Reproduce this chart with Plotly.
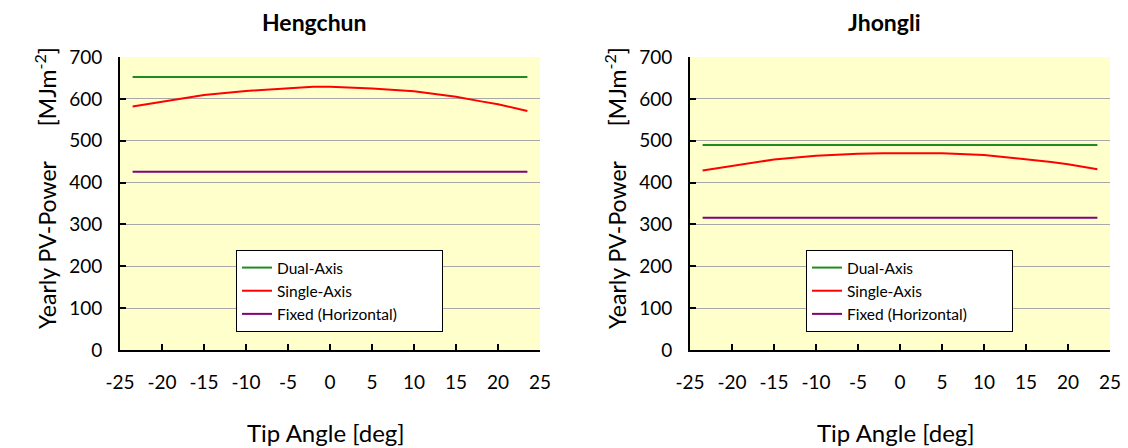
import plotly.graph_objects as go

# ---- data ----
tip_angle = [-23.5, -20, -17, -15, -10, -5, -2, 0, 2, 5, 10, 15, 18, 20, 23.5]

heng_dual = [652] * len(tip_angle)
heng_single = [582, 593, 603, 609, 619, 626, 629, 629, 627, 625, 618, 605, 594, 587, 571]
heng_fixed = [426] * len(tip_angle)

jhong_dual = [490] * len(tip_angle)
jhong_single = [429, 440, 449, 455, 464, 469, 470, 470, 470, 470, 466, 456, 449, 444, 432]
jhong_fixed = [316] * len(tip_angle)

series_names = ["Dual-Axis", "Single-Axis", "Fixed (Horizontal)"]
series_colors = ["#1E8C1E", "#FF0000", "#800080"]
titles = ["Hengchun", "Jhongli"]
x_ticks = [-25, -20, -15, -10, -5, 0, 5, 10, 15, 20, 25]
x_tick_labels = ["-25", "-20", "-15", "-10", "-5", "0", "5", "10", "15", "20", "25"]
y_ticks = [0, 100, 200, 300, 400, 500, 600, 700]

FONT = "Lato"
W, H = 1128, 448
PAD = "\u00a0" * 10  # invisible padding to widen the legend box

fig = go.Figure()

panels = [
    (heng_dual, heng_single, heng_fixed, "x", "y", "legend"),
    (jhong_dual, jhong_single, jhong_fixed, "x2", "y2", "legend2"),
]
for dual, single, fixed, xa, ya, lg in panels:
    for k, (name, vals, col) in enumerate(zip(series_names, [dual, single, fixed], series_colors)):
        label = name + (PAD if k == len(series_names) - 1 else "")
        fig.add_trace(go.Scatter(
            x=tip_angle, y=vals, mode="lines", name=label,
            line=dict(color=col, width=2),
            xaxis=xa, yaxis=ya, legend=lg,
        ))

# plot area pixel boxes
boxes = [(120, 540), (690, 1110)]
top_px, bot_px = 57, 350
ydom = [1 - bot_px / H, 1 - top_px / H]

axis_common = dict(
    showline=True, linecolor="black", linewidth=2,
    ticks="inside", ticklen=6, tickwidth=2, tickcolor="black",
    tickfont=dict(family=FONT, size=19, color="black"),
    mirror=False, zeroline=False, automargin=False,
)

layout = dict(
    width=W, height=H,
    margin=dict(l=0, r=0, t=0, b=0, pad=0),
    paper_bgcolor="white",
    plot_bgcolor="#FFFFCC",
    font=dict(family=FONT, color="black"),
    showlegend=True,
)

for i, (x0, x1) in enumerate(boxes):
    sx = "" if i == 0 else "2"
    layout["xaxis" + sx] = dict(
        axis_common,
        domain=[x0 / W, x1 / W], range=[-25, 25],
        tickvals=x_ticks, ticktext=x_tick_labels, showgrid=False,
        ticklabelstandoff=14,
        anchor="y" + sx,
    )
    layout["yaxis" + sx] = dict(
        axis_common,
        domain=ydom, range=[0, 700],
        tickvals=y_ticks, showgrid=True, gridcolor="#A8A8A8", gridwidth=1,
        ticklabelstandoff=12,
        anchor="x" + sx,
    )

legend_style = dict(
    bgcolor="white", bordercolor="black", borderwidth=1,
    font=dict(family=FONT, size=15.5, color="black"),
    xanchor="left", yanchor="top", tracegroupgap=0,
    itemwidth=30,
)
layout["legend"] = dict(legend_style, x=236 / W, y=1 - 250 / H)
layout["legend2"] = dict(legend_style, x=806 / W, y=1 - 250 / H)

annotations = []
for i, (x0, x1) in enumerate(boxes):
    cx = (x0 + x1) / 2
    annotations.append(dict(
        text="<b>" + titles[i] + "</b>", x=(cx - 16) / W, y=1 - 22 / H,
        xref="paper", yref="paper", showarrow=False,
        font=dict(family=FONT, size=23, color="black"),
        xanchor="center", yanchor="middle",
    ))
    annotations.append(dict(
        text="Tip Angle [deg]", x=(cx - 4) / W, y=1 - 432 / H,
        xref="paper", yref="paper", showarrow=False,
        font=dict(family=FONT, size=24, color="black"),
        xanchor="center", yanchor="middle",
    ))
    annotations.append(dict(
        text="Yearly PV-Power\u00a0\u00a0\u00a0\u00a0\u00a0\u00a0[MJm<sup>-2</sup>]",
        x=(x0 - 75) / W, y=1 - 188 / H,
        xref="paper", yref="paper", showarrow=False, textangle=-90,
        font=dict(family=FONT, size=23, color="black"),
        xanchor="center", yanchor="middle",
    ))
layout["annotations"] = annotations

fig.update_layout(**layout)
fig.write_html("out.html")
